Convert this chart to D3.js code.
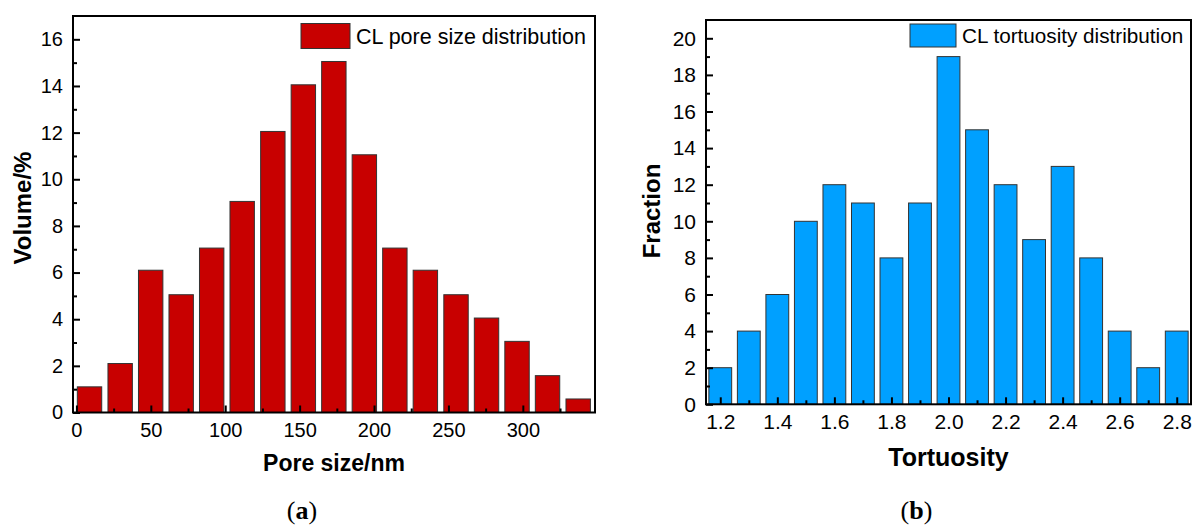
<!DOCTYPE html>
<html>
<head>
<meta charset="utf-8">
<script src="https://cdn.jsdelivr.net/npm/d3@7/dist/d3.min.js"></script>
<style>
  body { margin: 0; background: #fff; }
  text { font-family: "Liberation Sans", Arial, sans-serif; fill: #000; }
</style>
</head>
<body>
<div id="chart"></div>
<script>
// panel (a): pore size distribution
var poreSize = [8.8, 29.4, 49.9, 70.4, 90.9, 111.4, 132, 152.5, 173, 193.5, 214, 234.5, 255.1, 275.6, 296.1, 316.6, 337.2];
var poreVolume = [1.1, 2.1, 6.1, 5.05, 7.05, 9.05, 12.05, 14.05, 15.05, 11.05, 7.05, 6.1, 5.05, 4.05, 3.05, 1.58, 0.58];
var poreTicks = [0, 50, 100, 150, 200, 250, 300];
var volumeTicks = [0, 2, 4, 6, 8, 10, 12, 14, 16];

// panel (b): tortuosity distribution
var tortuosity = [1.2, 1.3, 1.4, 1.5, 1.6, 1.7, 1.8, 1.9, 2.0, 2.1, 2.2, 2.3, 2.4, 2.5, 2.6, 2.7, 2.8];
var tortFraction = [2, 4, 6, 10, 12, 11, 8, 11, 19, 15, 12, 9, 13, 8, 4, 2, 4];
var tortTicks = [1.2, 1.4, 1.6, 1.8, 2.0, 2.2, 2.4, 2.6, 2.8];
var fractionTicks = [0, 2, 4, 6, 8, 10, 12, 14, 16, 18, 20];

var svg = d3.select("#chart").append("svg")
    .attr("width", 1194)
    .attr("height", 526);

function drawPanel(p) {
  var x = d3.scaleLinear().domain(p.xDomain).range([p.left, p.right]);
  var y = d3.scaleLinear().domain(p.yDomain).range([p.bottom, p.top]);
  var g = svg.append("g");

  // bars
  g.selectAll(".bar")
      .data(p.xs)
      .enter().append("rect")
      .attr("class", "bar")
      .attr("x", function(d) { return x(d - p.barWidth / 2); })
      .attr("width", x(p.barWidth) - x(0))
      .attr("y", function(d, i) { return y(p.ys[i]); })
      .attr("height", function(d, i) { return y(0) - y(p.ys[i]); })
      .attr("fill", p.color)
      .attr("stroke", "#333")
      .attr("stroke-width", 1);

  // minor ticks (inward, no labels)
  g.append("g")
      .attr("transform", "translate(0," + p.bottom + ")")
      .call(d3.axisBottom(x).tickValues(p.xMinor).tickSize(-4).tickFormat(""));
  g.append("g")
      .attr("transform", "translate(" + p.left + ",0)")
      .call(d3.axisLeft(y).tickValues(p.yMinor).tickSize(-4).tickFormat(""));

  // major ticks
  var xAxis = g.append("g")
      .attr("transform", "translate(0," + p.bottom + ")")
      .call(d3.axisBottom(x).tickValues(p.xTicks).tickSize(-7).tickPadding(9)
        .tickFormat(p.xFormat));
  var yAxis = g.append("g")
      .attr("transform", "translate(" + p.left + ",0)")
      .call(d3.axisLeft(y).tickValues(p.yTicks).tickSize(-7).tickPadding(10)
        .tickFormat(d3.format("d")));

  g.selectAll(".domain").remove();
  g.selectAll(".tick line").attr("stroke", "#000").attr("stroke-width", 2);
  xAxis.selectAll("text").style("font-size", p.tickFont + "px").attr("dy", "0.75em");
  yAxis.selectAll("text").style("font-size", p.tickFont + "px");

  // frame
  g.append("rect")
      .attr("x", p.left)
      .attr("y", p.top)
      .attr("width", p.right - p.left)
      .attr("height", p.bottom - p.top)
      .attr("fill", "none")
      .attr("stroke", "#000")
      .attr("stroke-width", 2);

  // axis titles
  g.append("text")
      .attr("x", (p.left + p.right) / 2)
      .attr("y", p.xTitleY)
      .attr("text-anchor", "middle")
      .style("font-weight", "bold")
      .style("font-size", p.xTitleFont + "px")
      .text(p.xTitle);
  g.append("text")
      .attr("transform", "translate(" + p.yTitleX + "," + p.yTitleMid + ") rotate(-90)")
      .attr("text-anchor", "middle")
      .style("font-weight", "bold")
      .style("font-size", p.yTitleFont + "px")
      .text(p.yTitle);

  // legend
  var lg = g.append("g").attr("transform", "translate(" + p.legendX + "," + p.legendY + ")");
  lg.append("rect")
      .attr("width", p.legendW)
      .attr("height", p.legendH)
      .attr("fill", p.color)
      .attr("stroke", "#333")
      .attr("stroke-width", 1);
  lg.append("text")
      .attr("x", p.legendW + 6)
      .attr("y", p.legendH / 2)
      .attr("dy", "0.36em")
      .style("font-size", p.legendFont + "px")
      .text(p.legend);

  // caption
  var cap = g.append("text")
      .attr("x", (p.left + p.right) / 2 - 32)
      .attr("y", 519)
      .attr("text-anchor", "middle")
      .style("font-family", "'Liberation Serif', 'DejaVu Serif', serif")
      .style("font-size", "26px");
  cap.append("tspan").text("(");
  cap.append("tspan").style("font-weight", "bold").text(p.caption);
  cap.append("tspan").text(")");
}

drawPanel({
  left: 73, right: 595, top: 16, bottom: 412.5,
  xDomain: [-2.3, 348.5], yDomain: [0, 17],
  xs: poreSize, ys: poreVolume, barWidth: 16.4,
  color: "#c80000",
  xTicks: poreTicks, xMinor: d3.range(25, 350, 50), xFormat: d3.format("d"),
  yTicks: volumeTicks, yMinor: d3.range(1, 17, 2),
  tickFont: 20,
  xTitle: "Pore size/nm", xTitleY: 471, xTitleFont: 23,
  yTitle: "Volume/%", yTitleX: 31, yTitleMid: 208, yTitleFont: 24,
  legend: "CL pore size distribution", legendX: 301, legendY: 23.5,
  legendW: 49, legendH: 25, legendFont: 21.5,
  caption: "a"
});

drawPanel({
  left: 706, right: 1191, top: 20, bottom: 404.3,
  xDomain: [1.15, 2.85], yDomain: [0, 21],
  xs: tortuosity, ys: tortFraction, barWidth: 0.08,
  color: "#00a0ff",
  xTicks: tortTicks, xMinor: d3.range(1.3, 2.8, 0.2), xFormat: d3.format(".1f"),
  yTicks: fractionTicks, yMinor: d3.range(1, 21, 2),
  tickFont: 21,
  xTitle: "Tortuosity", xTitleY: 466, xTitleFont: 25,
  yTitle: "Fraction", yTitleX: 660, yTitleMid: 211, yTitleFont: 24,
  legend: "CL tortuosity distribution", legendX: 910, legendY: 24,
  legendW: 46, legendH: 23, legendFont: 20.7,
  caption: "b"
});
</script>
</body>
</html>
